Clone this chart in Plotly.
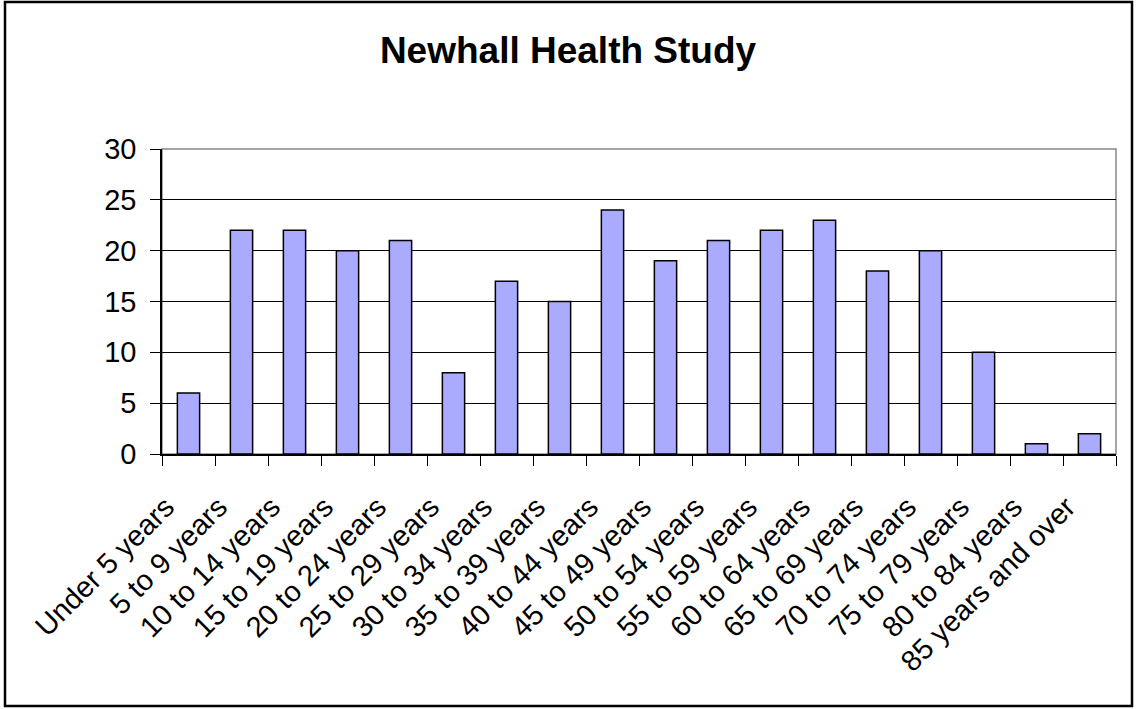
import plotly.graph_objects as go

age_groups = [
    "Under 5 years", "5 to 9 years", "10 to 14 years", "15 to 19 years",
    "20 to 24 years", "25 to 29 years", "30 to 34 years", "35 to 39 years",
    "40 to 44 years", "45 to 49 years", "50 to 54 years", "55 to 59 years",
    "60 to 64 years", "65 to 69 years", "70 to 74 years", "75 to 79 years",
    "80 to 84 years", "85 years and over",
]
counts = [6, 22, 22, 20, 21, 8, 17, 15, 24, 19, 21, 22, 23, 18, 20, 10, 1, 2]
y_ticks = [0, 5, 10, 15, 20, 25, 30]

W, H = 1136, 709
L, R, T, B = 162, 20, 149, 255
pw, ph = W - L - R, H - T - B

def px_x(x):
    return (x - L) / pw

def px_y(y):
    return (H - B - y) / ph

# pad the slanted labels so they sit a little lower-left of the tick
label_pad = "\u00a0" * 4
tick_text = [g + label_pad for g in age_groups]

fig = go.Figure(
    go.Bar(
        x=age_groups,
        y=counts,
        marker=dict(color="#AAAAFF", line=dict(color="#000000", width=1.5)),
    )
)

fig.update_layout(
    width=W,
    height=H,
    margin=dict(l=L, r=R, t=T, b=B),
    paper_bgcolor="white",
    plot_bgcolor="white",
    bargap=0.58,
    showlegend=False,
    font=dict(family="Liberation Sans, Arial, sans-serif", color="#000000"),
    title=dict(
        text="<b>Newhall Health Study</b>",
        x=0.5,
        xanchor="center",
        y=1 - 50 / H,
        yanchor="middle",
        font=dict(size=37, color="#000000"),
    ),
    xaxis=dict(
        type="category",
        tickvals=age_groups,
        ticktext=tick_text,
        tickangle=-45,
        tickfont=dict(size=29),
        ticks="outside",
        tickson="boundaries",
        ticklen=10,
        ticklabelstandoff=0,
        tickcolor="#000000",
        showline=True,
        linecolor="#000000",
        linewidth=1.5,
        showgrid=False,
        automargin=False,
    ),
    yaxis=dict(
        range=[0, 30],
        tickvals=y_ticks,
        tickfont=dict(size=29),
        ticks="outside",
        ticklen=10,
        ticklabelstandoff=8,
        tickcolor="#000000",
        showline=True,
        linecolor="#000000",
        linewidth=1.5,
        showgrid=True,
        gridcolor="#000000",
        gridwidth=1,
        zeroline=False,
        automargin=False,
    ),
    shapes=[
        # plot area frame (grey top and right edges)
        dict(type="rect", xref="paper", yref="paper", x0=0, x1=1, y0=0, y1=1,
             line=dict(color="#888888", width=1.5), layer="below"),
        # outer chart border
        dict(type="rect", xref="paper", yref="paper",
             x0=px_x(5), x1=px_x(1132), y0=px_y(2), y1=px_y(706),
             line=dict(color="#000000", width=2.5), layer="above"),
    ],
)

fig.write_html("out.html")
